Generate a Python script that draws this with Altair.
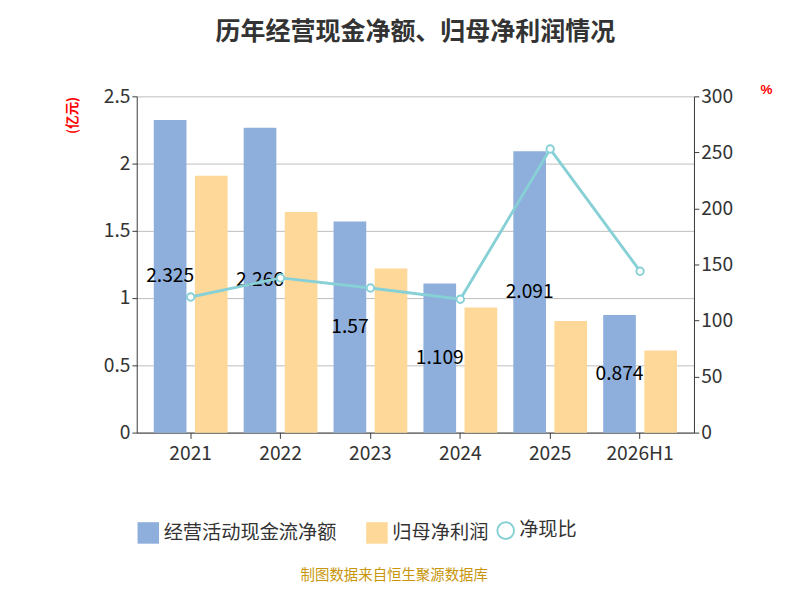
import altair as alt
import pandas as pd

years = ["2021", "2022", "2023", "2024", "2025", "2026H1"]
cash = [2.325, 2.266, 1.57, 1.109, 2.091, 0.874]
profit = [1.91, 1.64, 1.22, 0.93, 0.83, 0.61]
ratio = [121, 138, 129, 119, 253, 144]

s1, s2, s3 = "经营活动现金流净额", "归母净利润", "净现比"
bars = pd.DataFrame(
    [{"year": y, "s": s1, "v": c} for y, c in zip(years, cash)]
    + [{"year": y, "s": s2, "v": p} for y, p in zip(years, profit)]
)
lab = pd.DataFrame({"year": years, "s": s1, "half": [c / 2 for c in cash], "t": [str(c) for c in cash]})
line = pd.DataFrame({"year": years, "r": ratio, "s": s3})

F = "Noto Sans CJK SC"
xenc = alt.X("year:N", sort=years, title=None,
             axis=alt.Axis(labelAngle=0, labelFontSize=20, labelColor="#333", domainColor="#333",
                           tickColor="#333", tickSize=6, labelPadding=6, labelFont=F))
xoff = alt.XOffset("s:N", sort=[s1, s2], scale=alt.Scale(domain=[s1, s2], paddingInner=0.25))

b = alt.Chart(bars).mark_bar(width=34).encode(
    x=xenc, xOffset=xoff,
    y=alt.Y("v:Q", scale=alt.Scale(domain=[0, 2.5]),
            axis=alt.Axis(title="(亿元)", titleColor="red", titleFontSize=14, titleFont=F,
                          titleAngle=-90, titleX=-60, titleY=0, titleAlign="right",
                          values=[0, 0.5, 1, 1.5, 2, 2.5], labelFontSize=20, labelColor="#333",
                          domainColor="#333", tickColor="#333", gridColor="#bbb", labelFont=F,
                          labelExpr="datum.value")),
    fill=alt.Fill("s:N", sort=[s1, s2], scale=alt.Scale(domain=[s1, s2], range=["#8eaedb", "#fed899"]),
                  legend=alt.Legend(orient="bottom", title=None, symbolType="square", symbolSize=500,
                                    labelFontSize=20, labelFont=F, labelColor="#333", columnPadding=30,
                                    labelLimit=300, offset=60)),
)

t = alt.Chart(lab).mark_text(fontSize=20, color="black", font=F).encode(
    x=alt.X("year:N", sort=years), xOffset=xoff,
    y=alt.Y("half:Q", scale=alt.Scale(domain=[0, 2.5]), axis=None), text="t:N")

ln = alt.Chart(line).mark_line(color="#86d0d6", strokeWidth=3, point=alt.OverlayMarkDef(
    filled=True, fill="white", stroke="#86d0d6", size=60, strokeWidth=2)).encode(
    x=alt.X("year:N", sort=years),
    y=alt.Y("r:Q", scale=alt.Scale(domain=[0, 300]),
            axis=alt.Axis(orient="right", title="%", titleColor="red", titleFontSize=14,
                          titleAngle=0, titleX=75, titleY=0, values=[0, 50, 100, 150, 200, 250, 300],
                          labelFontSize=20, labelColor="#333", domainColor="#333", tickColor="#333",
                          grid=False, labelFont=F)),
    stroke=alt.Stroke("s:N", scale=alt.Scale(domain=[s3], range=["#86d0d6"]),
                      legend=alt.Legend(orient="bottom", title=None, symbolType="circle", symbolSize=300,
                                        symbolFillColor="white", symbolStrokeWidth=2,
                                        labelFontSize=20, labelFont=F, labelColor="#333", offset=60)),
)

src = alt.Chart(pd.DataFrame({"t": ["制图数据来自恒生聚源数据库"]})).mark_text(
    fontSize=15, color="#c8960c", font=F).encode(text="t:N", x=alt.value(268), y=alt.value(498))

chart = alt.layer(b, t, ln, src).resolve_scale(y="independent").properties(
    width=580, height=350,
    title=alt.Title("历年经营现金净额、归母净利润情况", fontSize=26, font=F, fontWeight="bold",
                    color="#333", offset=40),
    padding={"left": 60, "top": 0, "right": 20, "bottom": 0},
).configure_view(stroke=None)

chart.save("out.html", embed_options={"renderer": "svg", "actions": False})
